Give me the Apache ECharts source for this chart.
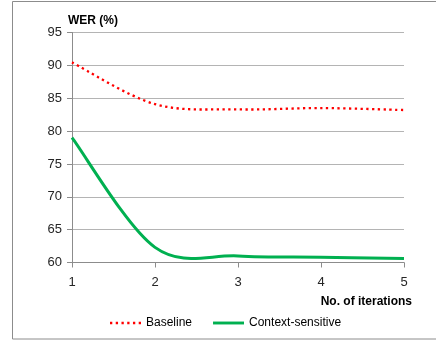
<!DOCTYPE html>
<html><head><meta charset="utf-8">
<script src="https://cdn.jsdelivr.net/npm/echarts@6/dist/echarts.min.js"></script>
<style>html,body{margin:0;padding:0;background:#fff}#c{width:436px;height:340px}</style>
</head><body><div id="c"></div>
<script>
const iterations = [1, 2, 3, 4, 5];
const baseline = [90.45, 84.1, 83.3, 83.5, 83.2];
const contextSensitive = [79.0, 62.3, 61.0, 60.8, 60.6];
const yTicks = {min: 60, max: 95, interval: 5};
const seriesNames = ['Baseline', 'Context-sensitive'];

const font = 'Liberation Sans, Arial, sans-serif';

// Smoothed line (spreadsheet-style smoothing: Bezier control points from neighbours)
function smoothRender(lineStyle) {
  return function (params, api) {
    if (params.dataIndex !== 0) return null;
    const n = params.dataInsideLength;
    const pts = [];
    for (let i = 0; i < n; i++) pts.push(api.coord([api.value(0, i), api.value(1, i)]));
    let d = 'M' + pts[0][0] + ' ' + pts[0][1];
    for (let i = 0; i < n - 1; i++) {
      const p0 = pts[Math.max(i - 1, 0)], p1 = pts[i], p2 = pts[i + 1], p3 = pts[Math.min(i + 2, n - 1)];
      const c1 = [p1[0] + (p2[0] - p0[0]) / 6, p1[1] + (p2[1] - p0[1]) / 6];
      const c2 = [p2[0] - (p3[0] - p1[0]) / 6, p2[1] - (p3[1] - p1[1]) / 6];
      d += ' C' + c1[0] + ' ' + c1[1] + ' ' + c2[0] + ' ' + c2[1] + ' ' + p2[0] + ' ' + p2[1];
    }
    return {type: 'path', shape: {pathData: d}, style: Object.assign({fill: 'none'}, lineStyle), silent: true};
  };
}

function dotsIcon(count, step, size) {
  let p = 'path://';
  for (let i = 0; i < count; i++) { const x = i * step; p += 'M' + x + ',0h' + size + 'v' + size + 'h-' + size + 'z'; }
  return p;
}

const chart = echarts.init(document.getElementById('c'), null, {renderer: 'canvas'});
chart.setOption({
  animation: false,
  backgroundColor: '#fff',
  grid: {left: 72, right: 32, top: 32.5, bottom: 77.5},
  graphic: [
    {type: 'rect', shape: {x: 12.5, y: 1.5, width: 440, height: 337.5}, style: {fill: 'none', stroke: '#8c8c8c', lineWidth: 1}, z: -10},
    {type: 'text', left: 68, top: 15, style: {text: 'WER (%)', font: 'bold 12px ' + font, fill: '#000'}},
    {type: 'text', right: 24, top: 296, style: {text: 'No. of iterations', font: 'bold 12px ' + font, fill: '#000'}}
  ],
  legend: {
    top: 312, left: 105,
    itemWidth: 31, itemGap: 21,
    textStyle: {fontFamily: font, fontSize: 12, color: '#000'},
    data: [
      {name: seriesNames[0], icon: dotsIcon(6, 5.75, 2.3), itemHeight: 2.3},
      {name: seriesNames[1], icon: 'path://M0,0h32v3h-32z', itemHeight: 3}
    ]
  },
  xAxis: {
    type: 'value', min: 1, max: 5, interval: 1,
    axisLine: {lineStyle: {color: '#8c8c8c', width: 1}},
    axisTick: {show: true, length: 5, lineStyle: {color: '#8c8c8c'}},
    axisLabel: {fontFamily: font, fontSize: 13, color: '#262626', margin: 13},
    splitLine: {show: false}
  },
  yAxis: {
    type: 'value', min: yTicks.min, max: yTicks.max, interval: yTicks.interval,
    axisLine: {show: true, lineStyle: {color: '#8c8c8c', width: 1}},
    axisTick: {show: true, length: 5, lineStyle: {color: '#8c8c8c'}},
    axisLabel: {fontFamily: font, fontSize: 13, color: '#262626', margin: 10},
    splitLine: {lineStyle: {color: '#b4b4b4', width: 1}}
  },
  series: [
    {
      name: seriesNames[0], type: 'custom',
      data: iterations.map((x, i) => [x, baseline[i]]),
      encode: {x: 0, y: 1},
      itemStyle: {color: '#ff0000'},
      renderItem: smoothRender({stroke: '#ff0000', lineWidth: 2.3, lineDash: [2.3, 3.45], lineCap: 'butt'})
    },
    {
      name: seriesNames[1], type: 'custom',
      data: iterations.map((x, i) => [x, contextSensitive[i]]),
      encode: {x: 0, y: 1},
      itemStyle: {color: '#00b050'},
      renderItem: smoothRender({stroke: '#00b050', lineWidth: 3})
    }
  ]
});
</script></body></html>
